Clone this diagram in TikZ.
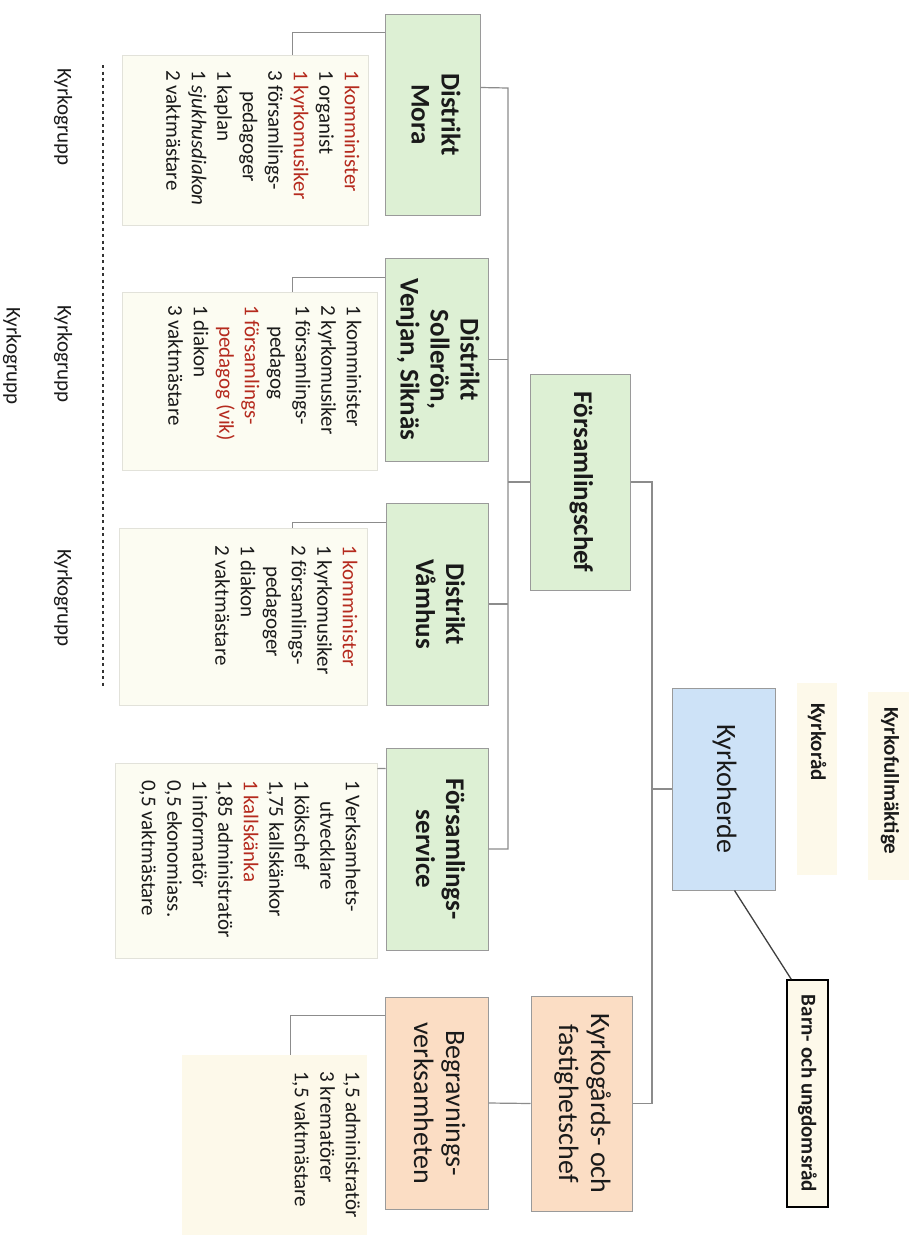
\documentclass[tikz,border=0pt]{standalone}
\usepackage{fontspec}
\setmainfont{Carlito}
\usetikzlibrary{fit}
\definecolor{grn}{HTML}{DDF0D4}
\definecolor{org}{HTML}{FBDDC4}
\definecolor{blu}{HTML}{CDE2F7}
\definecolor{crm}{HTML}{FCFCF2}
\definecolor{crm2}{HTML}{FDF9EA}
\definecolor{crmline}{HTML}{E2E2DA}
\definecolor{boxline}{HTML}{9A9A9A}
\definecolor{conncol}{HTML}{8C8C8C}
\definecolor{redtxt}{HTML}{B52A1E}
\definecolor{txt}{HTML}{1A1A1A}
\newcommand\myrot[1]{\rotatebox{-90}{#1}}
\newcommand\ctab[1]{\rotatebox{-90}{\begin{tabular}{@{}c@{}}#1\end{tabular}}}
\newcommand\ltab[1]{\rotatebox{-90}{\begin{tabular}{@{}l@{}}#1\end{tabular}}}
\newcommand\rd[1]{\textcolor{redtxt}{#1}}
\newcommand\ind{\hspace*{1em}}
\begin{document}
\begin{tikzpicture}[x=1pt,y=-1pt,
  box/.style={draw=boxline, line width=1pt, inner sep=0pt, text=txt},
  gbox/.style={box, fill=grn, font=\fontsize{27}{30}\selectfont\bfseries},
  obox/.style={box, fill=org, font=\fontsize{28}{32}\selectfont},
  bbox/.style={box, fill=blu, font=\fontsize{28}{32}\selectfont},
  lbox/.style={draw=crmline, line width=0.8pt, fill=crm, inner sep=0pt},
  ltext/.style={inner sep=0pt, anchor=north east, text=txt, font=\fontsize{21}{25.5}\selectfont},
  cbox/.style={fill=crm2, inner sep=0pt},
  btext/.style={inner sep=0pt, text=txt, font=\fontsize{21}{25}\selectfont\bfseries},
  grp/.style={inner sep=0pt, text=txt, font=\fontsize{21}{25}\selectfont},
  conn/.style={draw=conncol, line width=1.2pt},
  dotline/.style={draw=black!80, line width=2.6pt, dash pattern=on 3pt off 3.5pt},
]
\fill[white] (0,0) rectangle (909,1235);
\useasboundingbox (0,0) rectangle (909,1235);

% Districts
\node[gbox, fit={(385,14)(480,215)}] (mora) {\ctab{Distrikt\\Mora}};
\node[lbox, fit={(122,55)(368,225)}] (moralist) {};
\node[ltext] (moratxt) at (363,70) {\ltab{\rd{1 komminister}\\1 organist\\\rd{1 kyrkomusiker}\\3 församlings-\\\ind pedagoger\\1 kaplan\\1 \textit{sjukhusdiakon}\\2 vaktmästare}};

\node[gbox, fit={(385,258)(488,461)}] (soll) {\ctab{Distrikt\\Sollerön,\\Venjan, Siknäs}};
\node[lbox, fit={(122,292)(377,470)}] (solllist) {};
\node[ltext] (solltxt) at (365,305) {\ltab{1 komminister\\2 kyrkomusiker\\1 församlings-\\\ind pedagog\\\rd{1 församlings-}\\\rd{\ind pedagog (vik)}\\1 diakon\\3 vaktmästare}};

\node[gbox, fit={(386,503)(488,705)}] (vam) {\ctab{Distrikt\\Våmhus}};
\node[lbox, fit={(119,528)(367,705)}] (vamlist) {};
\node[ltext] (vamtxt) at (361,545) {\ltab{\rd{1 komminister}\\1 kyrkomusiker\\2 församlings-\\\ind pedagoger\\1 diakon\\2 vaktmästare}};

\node[gbox, fit={(386,748)(488,950)}] (fs) {\ctab{Församlings-\\service}};
\node[lbox, fit={(115,763)(377,958)}] (fslist) {};
\node[ltext] (fstxt) at (364,780) {\ltab{1 Verksamhets-\\\ind utvecklare\\1 kökschef\\1,75 kallskänkor\\\rd{1 kallskänka}\\1,85 administratör\\1 informatör\\0,5 ekonomiass.\\0,5 vaktmästare}};

\node[gbox, fit={(530,374)(630,590)}] (fchef) {\ctab{Församlingschef}};

% Top level
\node[bbox, fit={(672,688)(775,890)}] (kh) {\ctab{Kyrkoherde}};
\node[cbox, fit={(797,683)(837,875)}] (kr) {};
\node[btext, rotate=-90, anchor=west] (krtxt) at (817,703) {Kyrkoråd};
\node[cbox, fit={(868,692)(910,880)}] (kf) {};
\node[btext, rotate=-90, anchor=west] (kftxt) at (890,707) {Kyrkofullmäktige};
\node[btext, draw=black, line width=1.5pt, fill=crm2, fit={(787,980)(828,1207)}] (barn) {\myrot{Barn- och ungdomsråd}};

% Kyrkogård
\node[obox, fit={(531,996)(632,1211)}] (kgf) {\ctab{Kyrkogårds- och\\fastighetschef}};
\node[obox, fit={(385,997)(488,1209)}] (begr) {\ctab{Begravnings-\\verksamheten}};
\node[cbox, fit={(182,1055)(367,1235)}] (begrlist) {};
\node[ltext] (begrtxt) at (364,1071) {\ltab{1,5 administratör\\3 krematörer\\1,5 vaktmästare}};

% Kyrkogrupp
\node[grp, rotate=-90] (g1) at (63,117) {Kyrkogrupp};
\node[grp, rotate=-90] (g2) at (63,354) {Kyrkogrupp};
\node[grp, rotate=-90] (g3) at (12,356) {Kyrkogrupp};
\node[grp, rotate=-90] (g4) at (63,598) {Kyrkogrupp};
\coordinate (dtop) at (103,65);
\coordinate (dbot) at (103,688);
\draw[dotline] (dtop) -- (dbot);

% Connectors: district to list
\draw[conn] ([yshift=-19pt]mora.north west) -| ([xshift=171pt]moralist.north west);
\draw[conn] ([yshift=-20pt]soll.north west) -| ([xshift=171pt]solllist.north west);
\draw[conn] ([yshift=-20pt]vam.north west) -| ([xshift=174pt]vamlist.north west);
\draw[conn] ([yshift=-21pt]fs.north west) -- ([yshift=-6pt]fslist.north east);
\draw[conn] ([yshift=-19pt]begr.north west) -| ([xshift=109pt]begrlist.north west);

% Bus
\coordinate (bt) at (508,88);
\coordinate (bb) at (508,849);
\draw[conn] ([yshift=-74pt]mora.north east) -- (bt) -- (bb) -- (fs.east);
\draw[conn] (soll.east) -- (soll.east -| bt);
\draw[conn] (vam.east) -- (vam.east -| bt);
\draw[conn] (fchef.west -| bt) -- (fchef.west);

% Right trunk
\coordinate (rt) at (652,482);
\draw[conn] (fchef.east) -- (fchef.east -| rt) -- (kgf.east -| rt) -- (kgf.east);
\draw[conn] (kh.west -| rt) -- (kh.west);
\draw[conn] (kgf.west) -- (begr.east);
\draw[draw=black!75, line width=1.3pt] ([xshift=63pt]kh.south west) -- ([xshift=5pt]barn.north west);
\end{tikzpicture}
\end{document}
